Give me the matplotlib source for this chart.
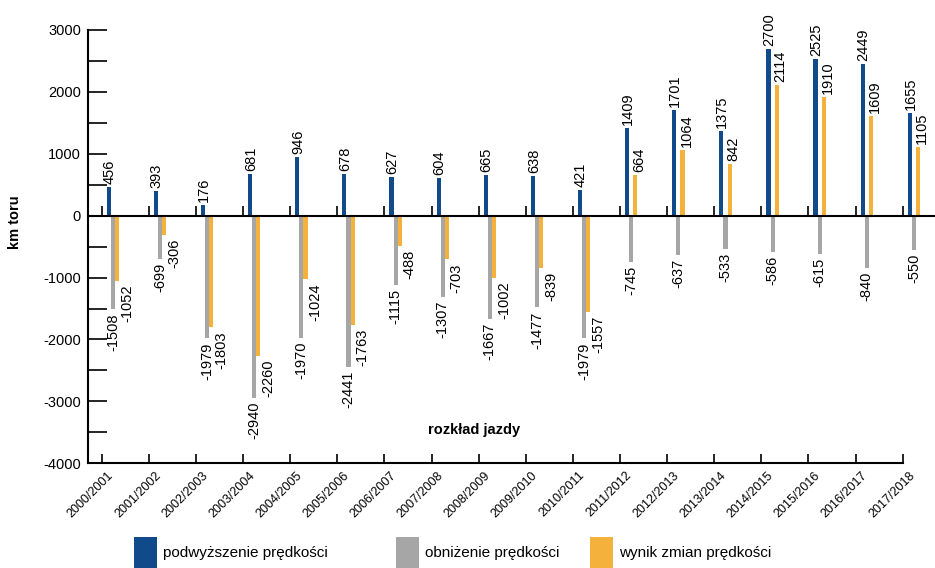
import numpy as np
import matplotlib
matplotlib.use('Agg')
from matplotlib import pyplot as plt
import matplotlib.ticker
from matplotlib.patches import Rectangle
from matplotlib.transforms import ScaledTranslation

plt.rcParams['font.family'] = ['Liberation Sans', 'DejaVu Sans']
plt.rcParams['axes.unicode_minus'] = False

seasons = ['2000/2001', '2001/2002', '2002/2003', '2003/2004', '2004/2005', '2005/2006',
           '2006/2007', '2007/2008', '2008/2009', '2009/2010', '2010/2011', '2011/2012',
           '2012/2013', '2013/2014', '2014/2015', '2015/2016', '2016/2017', '2017/2018']
increase = [456, 393, 176, 681, 946, 678, 627, 604, 665, 638, 421, 1409, 1701, 1375,
            2700, 2525, 2449, 1655]
decrease = [-1508, -699, -1979, -2940, -1970, -2441, -1115, -1307, -1667, -1477, -1979,
            -745, -637, -533, -586, -615, -840, -550]
net = [-1052, -306, -1803, -2260, -1024, -1763, -488, -703, -1002, -839, -1557, 664,
       1064, 842, 2114, 1910, 1609, 1105]

labels = ['podwyższenie prędkości', 'obniżenie prędkości', 'wynik zmian prędkości']
colors = ['#114a8a', '#a6a6a6', '#f4b23c']

W, H = 935, 568
fig = plt.figure(figsize=(W / 100, H / 100), dpi=100)
ax = fig.add_axes([88 / W, (H - 463.3) / H, 1 - 88 / W, (463.3 - 30) / H])

x = np.arange(len(seasons))
bw = 0.088
offsets = [0.15, 0.238, 0.326]
series = [increase, decrease, net]

for vals, off, c in zip(series, offsets, colors):
    ax.bar(x + off, vals, width=bw, color=c, zorder=2)

# value labels
def px(dx, dy):
    return ScaledTranslation(dx / 100, dy / 100, fig.dpi_scale_trans)

for k, (vals, off) in enumerate(zip(series, offsets)):
    for xi, v in zip(x, vals):
        if v >= 0:
            dx = 4 if k == 2 else 1
            tr = ax.transData + px(dx, 3)
            ax.text(xi + off, v, str(v), rotation=90, ha='center', va='bottom',
                    fontsize=10.5, transform=tr)
        else:
            dx = 10 if k == 2 else 0
            tr = ax.transData + px(dx, -4)
            ax.text(xi + off, v, str(v), rotation=90, ha='center', va='top',
                    fontsize=10.5, transform=tr)

# zero line with small category ticks
ax.axhline(0, color='black', lw=1.5, zorder=3)
ax.plot(x, np.zeros(len(x)), ls='none', marker=2, ms=7.2, mew=1.2, color='black',
        zorder=3)

xl = (-0.29, 17.685)
ax.set_xlim(*xl)
ax.set_ylim(-4000, 3000)

ax.spines['top'].set_visible(False)
ax.spines['right'].set_visible(False)
ax.spines['left'].set_linewidth(1.5)
ax.spines['bottom'].set_linewidth(1.5)
ax.spines['bottom'].set_bounds(xl[0], len(seasons) - 1)

ax.yaxis.set_major_locator(matplotlib.ticker.MultipleLocator(1000))
ax.yaxis.set_minor_locator(matplotlib.ticker.MultipleLocator(500))
ax.tick_params(axis='y', which='both', direction='in', length=13.7, width=1.2,
               labelsize=10.5, pad=5)
ax.tick_params(axis='x', direction='in', length=6.5, width=1.2, labelsize=9, pad=6)

ax.set_xticks(x)
ax.set_xticklabels(seasons, rotation=45, ha='right', va='center', rotation_mode='anchor')
for lab in ax.get_xticklabels():
    lab.set_transform(lab.get_transform() + px(10, -2))

fig.text(15 / W, 1 - 222 / H, 'km toru', rotation=90, ha='center', va='center',
         fontsize=10.5, fontweight='bold')
fig.text(474 / W, 1 - 430 / H, 'rozkład jazdy', ha='center', va='center',
         fontsize=10.5, fontweight='bold')

# legend
leg_x = [134, 395.7, 590]
for lx, lab, c in zip(leg_x, labels, colors):
    fig.add_artist(Rectangle((lx / W, 0), 23 / W, 31 / H, transform=fig.transFigure,
                             color=c, lw=0))
    fig.text((lx + 29) / W, 1 - 553 / H, lab, ha='left', va='center', fontsize=11)

fig.savefig('out.png', dpi=100)
